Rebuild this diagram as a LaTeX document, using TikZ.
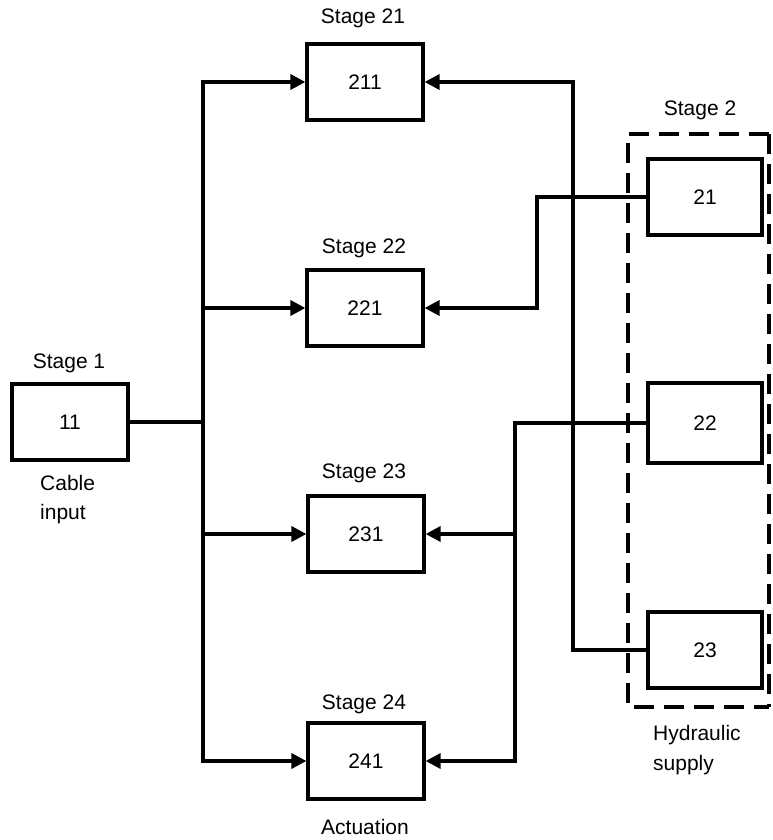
\documentclass[tikz,border=0pt]{standalone}
\usepackage{fontspec}
\setmainfont{Liberation Sans}
\usetikzlibrary{arrows.meta}
\begin{document}
\begin{tikzpicture}[x=1pt,y=-1pt,
  box/.style={draw,line width=3.2pt,minimum width=116pt,minimum height=76pt,inner sep=0pt,font=\fontsize{21}{25}\selectfont},
  lbl/.style={font=\fontsize{21}{25}\selectfont,inner sep=0pt},
  wire/.style={line width=3.5pt},
  arr/.style={wire,-{Triangle[length=15pt,width=15pt]}},
  dashbox/.style={line width=3.8pt,dash pattern=on 20pt off 10pt}]
\useasboundingbox (0,0) rectangle (773,840);
% left boxes
\node[box] (b11) at (70,422) {11};
\node[box] (b211) at (365,82) {211};
\node[box] (b221) at (365,308) {221};
\node[box] (b231) at (366,534) {231};
\node[box] (b241) at (366,761) {241};
% right boxes
\node[box,minimum width=114pt] (b21) at (705,197) {21};
\node[box,minimum width=114pt,minimum height=80pt] (b22) at (705,423) {22};
\node[box,minimum width=114pt] (b23) at (705,650) {23};
% dashed group
\draw[dashbox] (769,134) -- (628,134) -- (628,707) -- (769,707);
\draw[dashbox] (769,134) -- (769,707);
% labels
\node[lbl] (s1) at (69,363) {Stage 1};
\node[lbl] (s21) at (363,18) {Stage 21};
\node[lbl] (s22) at (364,248) {Stage 22};
\node[lbl] (s23) at (364,473) {Stage 23};
\node[lbl] (s24) at (364,704) {Stage 24};
\node[lbl] (s2) at (700,110) {Stage 2};
\node[lbl,anchor=west] (cab) at (40,483) {Cable};
\node[lbl,anchor=west] (inp) at (40,514) {input};
\node[lbl,anchor=west] (hyd) at (653,735) {Hydraulic};
\node[lbl,anchor=west] (sup) at (653,765) {supply};
\node[lbl] (act) at (365,827) {Actuation};
% coordinates for buses
\coordinate (bus) at (203,422);
\coordinate (r1) at (537,0);
\coordinate (r2) at (573,0);
\coordinate (r3) at (515,0);
% left bus
\draw[wire] (b11.east) -- (bus);
\draw[arr] (bus) |- (b211.west);
\draw[arr] (bus) |- (b221.west);
\draw[arr] (bus) |- (b231.west);
\draw[arr] (bus) |- (b241.west);
% right connections
\draw[arr] (b23.west) -| (r2|-b211.east) -- (b211.east);
\draw[arr] (b21.west) -| (r1|-b221.east) -- (b221.east);
\draw[arr] (b22.west) -| (r3|-b241.east) -- (b241.east);
\draw[arr] (r3|-b231.east) -- (b231.east);
\end{tikzpicture}
\end{document}
